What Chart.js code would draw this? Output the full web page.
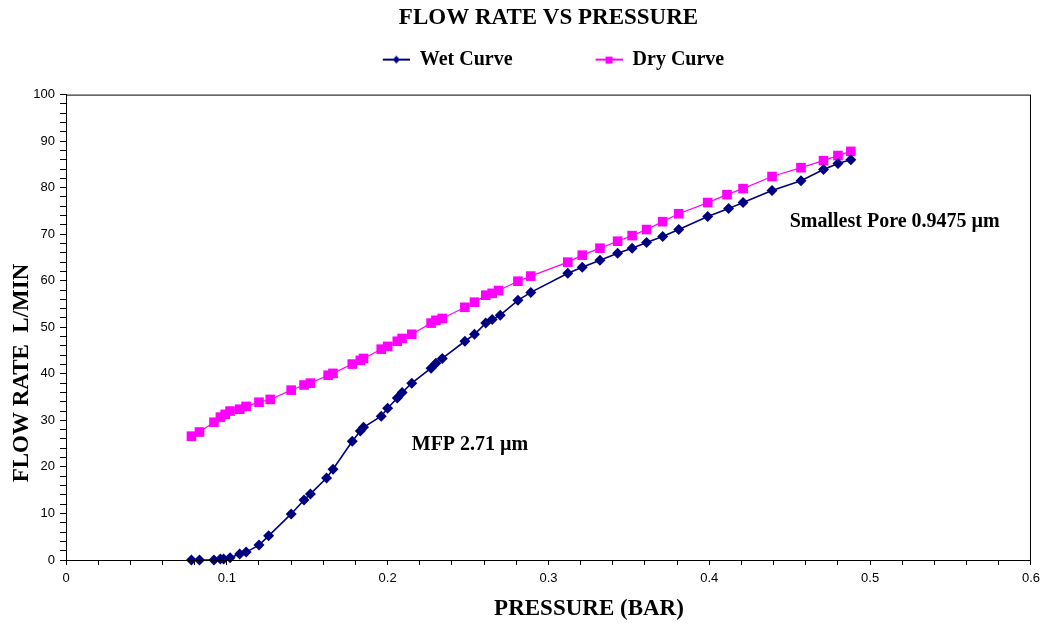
<!DOCTYPE html>
<html>
<head>
<meta charset="utf-8">
<script src="https://cdn.jsdelivr.net/npm/chart.js@4"></script>
<style>
  html, body { margin: 0; padding: 0; background: #fff; }
  #wrap { width: 1046px; height: 624px; }
</style>
</head>
<body>
<div id="wrap"><canvas id="chart"></canvas></div>
<script>
// pressure (bar) and flow (L/min)
const wetPressure = [0.078, 0.083, 0.092, 0.096, 0.098, 0.102, 0.108, 0.112, 0.12, 0.126, 0.14, 0.148, 0.152, 0.162, 0.166, 0.178, 0.183, 0.185, 0.196, 0.2, 0.206, 0.209, 0.215, 0.227, 0.23, 0.234, 0.248, 0.254, 0.261, 0.265, 0.27, 0.281, 0.289, 0.312, 0.321, 0.332, 0.343, 0.352, 0.361, 0.371, 0.381, 0.399, 0.412, 0.421, 0.439, 0.457, 0.471, 0.48, 0.488];
const wetFlow = [0, 0, 0, 0.2, 0.2, 0.5, 1.3, 1.7, 3.2, 5.2, 9.9, 12.9, 14.2, 17.6, 19.5, 25.5, 27.7, 28.5, 30.9, 32.6, 34.8, 36, 38, 41.2, 42.3, 43.3, 47, 48.5, 50.9, 51.7, 52.6, 55.8, 57.5, 61.6, 62.9, 64.4, 65.9, 67, 68.2, 69.5, 71, 73.8, 75.5, 76.8, 79.4, 81.5, 83.9, 85.2, 86];

const dryPressure = [0.078, 0.083, 0.092, 0.096, 0.099, 0.102, 0.108, 0.112, 0.12, 0.127, 0.14, 0.148, 0.152, 0.163, 0.166, 0.178, 0.183, 0.185, 0.196, 0.2, 0.206, 0.209, 0.215, 0.227, 0.23, 0.234, 0.248, 0.254, 0.261, 0.265, 0.269, 0.281, 0.289, 0.312, 0.321, 0.332, 0.343, 0.352, 0.361, 0.371, 0.381, 0.399, 0.411, 0.421, 0.439, 0.457, 0.471, 0.48, 0.488];
const dryFlow = [26.6, 27.5, 29.6, 30.7, 31.3, 32, 32.4, 33, 33.9, 34.5, 36.5, 37.6, 38, 39.7, 40.1, 42.1, 42.9, 43.3, 45.3, 45.9, 47, 47.6, 48.5, 50.9, 51.5, 51.9, 54.3, 55.4, 56.9, 57.3, 57.9, 59.9, 61, 64, 65.5, 67, 68.5, 69.7, 71, 72.7, 74.4, 76.8, 78.5, 79.8, 82.4, 84.3, 85.8, 86.9, 87.8];

const seriesNames = ["Wet Curve", "Dry Curve"];
const notes = [
  { text: "MFP 2.71 \u00b5m", x: 0.215, y: 24.7 },
  { text: "Smallest Pore 0.9475 \u00b5m", x: 0.45, y: 72.7 }
];

const serif = "'Times New Roman', 'Liberation Serif', serif";
const sans = "Arial, 'Liberation Sans', sans-serif";
const WET = "#000080";
const DRY = "#ff00ff";

function toPoints(xs, ys) {
  return xs.map((x, i) => ({ x: x, y: ys[i] }));
}

// legend icon: short line with the marker in the middle
function legendIcon(color, marker) {
  const c = document.createElement("canvas");
  c.width = 100;
  c.height = 12;
  const g = c.getContext("2d");
  g.strokeStyle = color;
  g.lineWidth = 2;
  g.beginPath();
  g.moveTo(73, 6);
  g.lineTo(100, 6);
  g.stroke();
  g.fillStyle = color;
  g.beginPath();
  if (marker === "diamond") {
    g.moveTo(86.5, 2); g.lineTo(90, 6); g.lineTo(86.5, 10); g.lineTo(83, 6);
  } else {
    g.rect(83, 3, 7, 7);
  }
  g.fill();
  return c;
}
const icons = [legendIcon(WET, "diamond"), legendIcon(DRY, "square")];

function isTenth(v) {
  return Math.abs(v * 10 - Math.round(v * 10)) < 1e-6;
}

const legendGap = {
  id: "legendGap",
  beforeInit(chart) {
    const fit = chart.legend.fit;
    chart.legend.fit = function () {
      fit.bind(chart.legend)();
      this.height += 15;
    };
  }
};

const boxAndText = {
  id: "boxAndText",
  afterDraw(chart) {
    const { ctx, chartArea: a, scales } = chart;
    ctx.save();
    // plot frame
    ctx.strokeStyle = "#000";
    ctx.lineWidth = 1;
    ctx.strokeRect(a.left + 0.5, a.top + 0.5, a.right - a.left - 1, a.bottom - a.top);

    ctx.fillStyle = "#000";
    ctx.font = "bold 20px " + serif;
    ctx.textBaseline = "middle";
    ctx.textAlign = "left";
    notes.forEach(n => {
      ctx.fillText(n.text, scales.x.getPixelForValue(n.x), scales.y.getPixelForValue(n.y));
    });

    // axis titles
    ctx.font = "bold 23px " + serif;
    ctx.textAlign = "center";
    ctx.fillText("PRESSURE (BAR)", 589, 609);
    ctx.translate(22, 373);
    ctx.rotate(-Math.PI / 2);
    ctx.fillText("FLOW RATE  L/MIN", 0, 0);
    ctx.restore();
  }
};

new Chart(document.getElementById("chart"), {
  type: "scatter",
  data: {
    datasets: [
      {
        label: seriesNames[0],
        data: toPoints(wetPressure, wetFlow),
        showLine: true,
        borderColor: WET,
        backgroundColor: WET,
        borderWidth: 1.6,
        pointStyle: "rectRot",
        pointRadius: 5.5,
        pointHoverRadius: 5.5,
        pointBorderWidth: 0,
        clip: false
      },
      {
        label: seriesNames[1],
        data: toPoints(dryPressure, dryFlow),
        showLine: true,
        borderColor: DRY,
        backgroundColor: DRY,
        borderWidth: 1.2,
        pointStyle: "rect",
        pointRadius: 6.8,
        pointHoverRadius: 6.8,
        pointBorderWidth: 0,
        clip: false
      }
    ]
  },
  options: {
    responsive: true,
    maintainAspectRatio: false,
    animation: false,
    layout: { padding: { left: 0, right: 12, top: 0, bottom: 0 } },
    plugins: {
      tooltip: { enabled: false },
      title: {
        display: true,
        text: "FLOW RATE VS PRESSURE",
        fullSize: false,
        color: "#000",
        font: { family: serif, size: 23, weight: "bold", lineHeight: 1.2 },
        padding: { top: 4, bottom: 8 }
      },
      legend: {
        display: true,
        position: "top",
        labels: {
          color: "#000",
          font: { family: serif, size: 20, weight: "bold" },
          usePointStyle: true,
          pointStyleWidth: 100,
          padding: 10,
          generateLabels(chart) {
            const items = Chart.defaults.plugins.legend.labels.generateLabels(chart);
            items.forEach((it, i) => { it.pointStyle = icons[i]; });
            return items;
          }
        }
      }
    },
    scales: {
      x: {
        type: "linear",
        min: 0,
        max: 0.6,
        afterFit(scale) { scale.height = 64; },
        border: { display: true, color: "#000", width: 1 },
        grid: { display: true, drawOnChartArea: false, drawTicks: true, tickLength: 5, tickColor: "#000" },
        ticks: {
          stepSize: 0.02,
          autoSkip: false,
          maxRotation: 0,
          padding: 6,
          color: "#000",
          font: { family: sans, size: 13 },
          callback: v => isTenth(v) ? String(Math.round(v * 10) / 10) : ""
        }
      },
      y: {
        type: "linear",
        min: 0,
        max: 100,
        afterFit(scale) { scale.width = 66; },
        border: { display: true, color: "#000", width: 1 },
        grid: { display: true, drawOnChartArea: false, drawTicks: true, tickLength: 6, tickColor: "#000" },
        ticks: {
          stepSize: 2,
          autoSkip: false,
          padding: 5,
          color: "#000",
          font: { family: sans, size: 13 },
          callback: v => v % 10 === 0 ? String(v) : ""
        }
      }
    }
  },
  plugins: [legendGap, boxAndText]
});
</script>
</body>
</html>
